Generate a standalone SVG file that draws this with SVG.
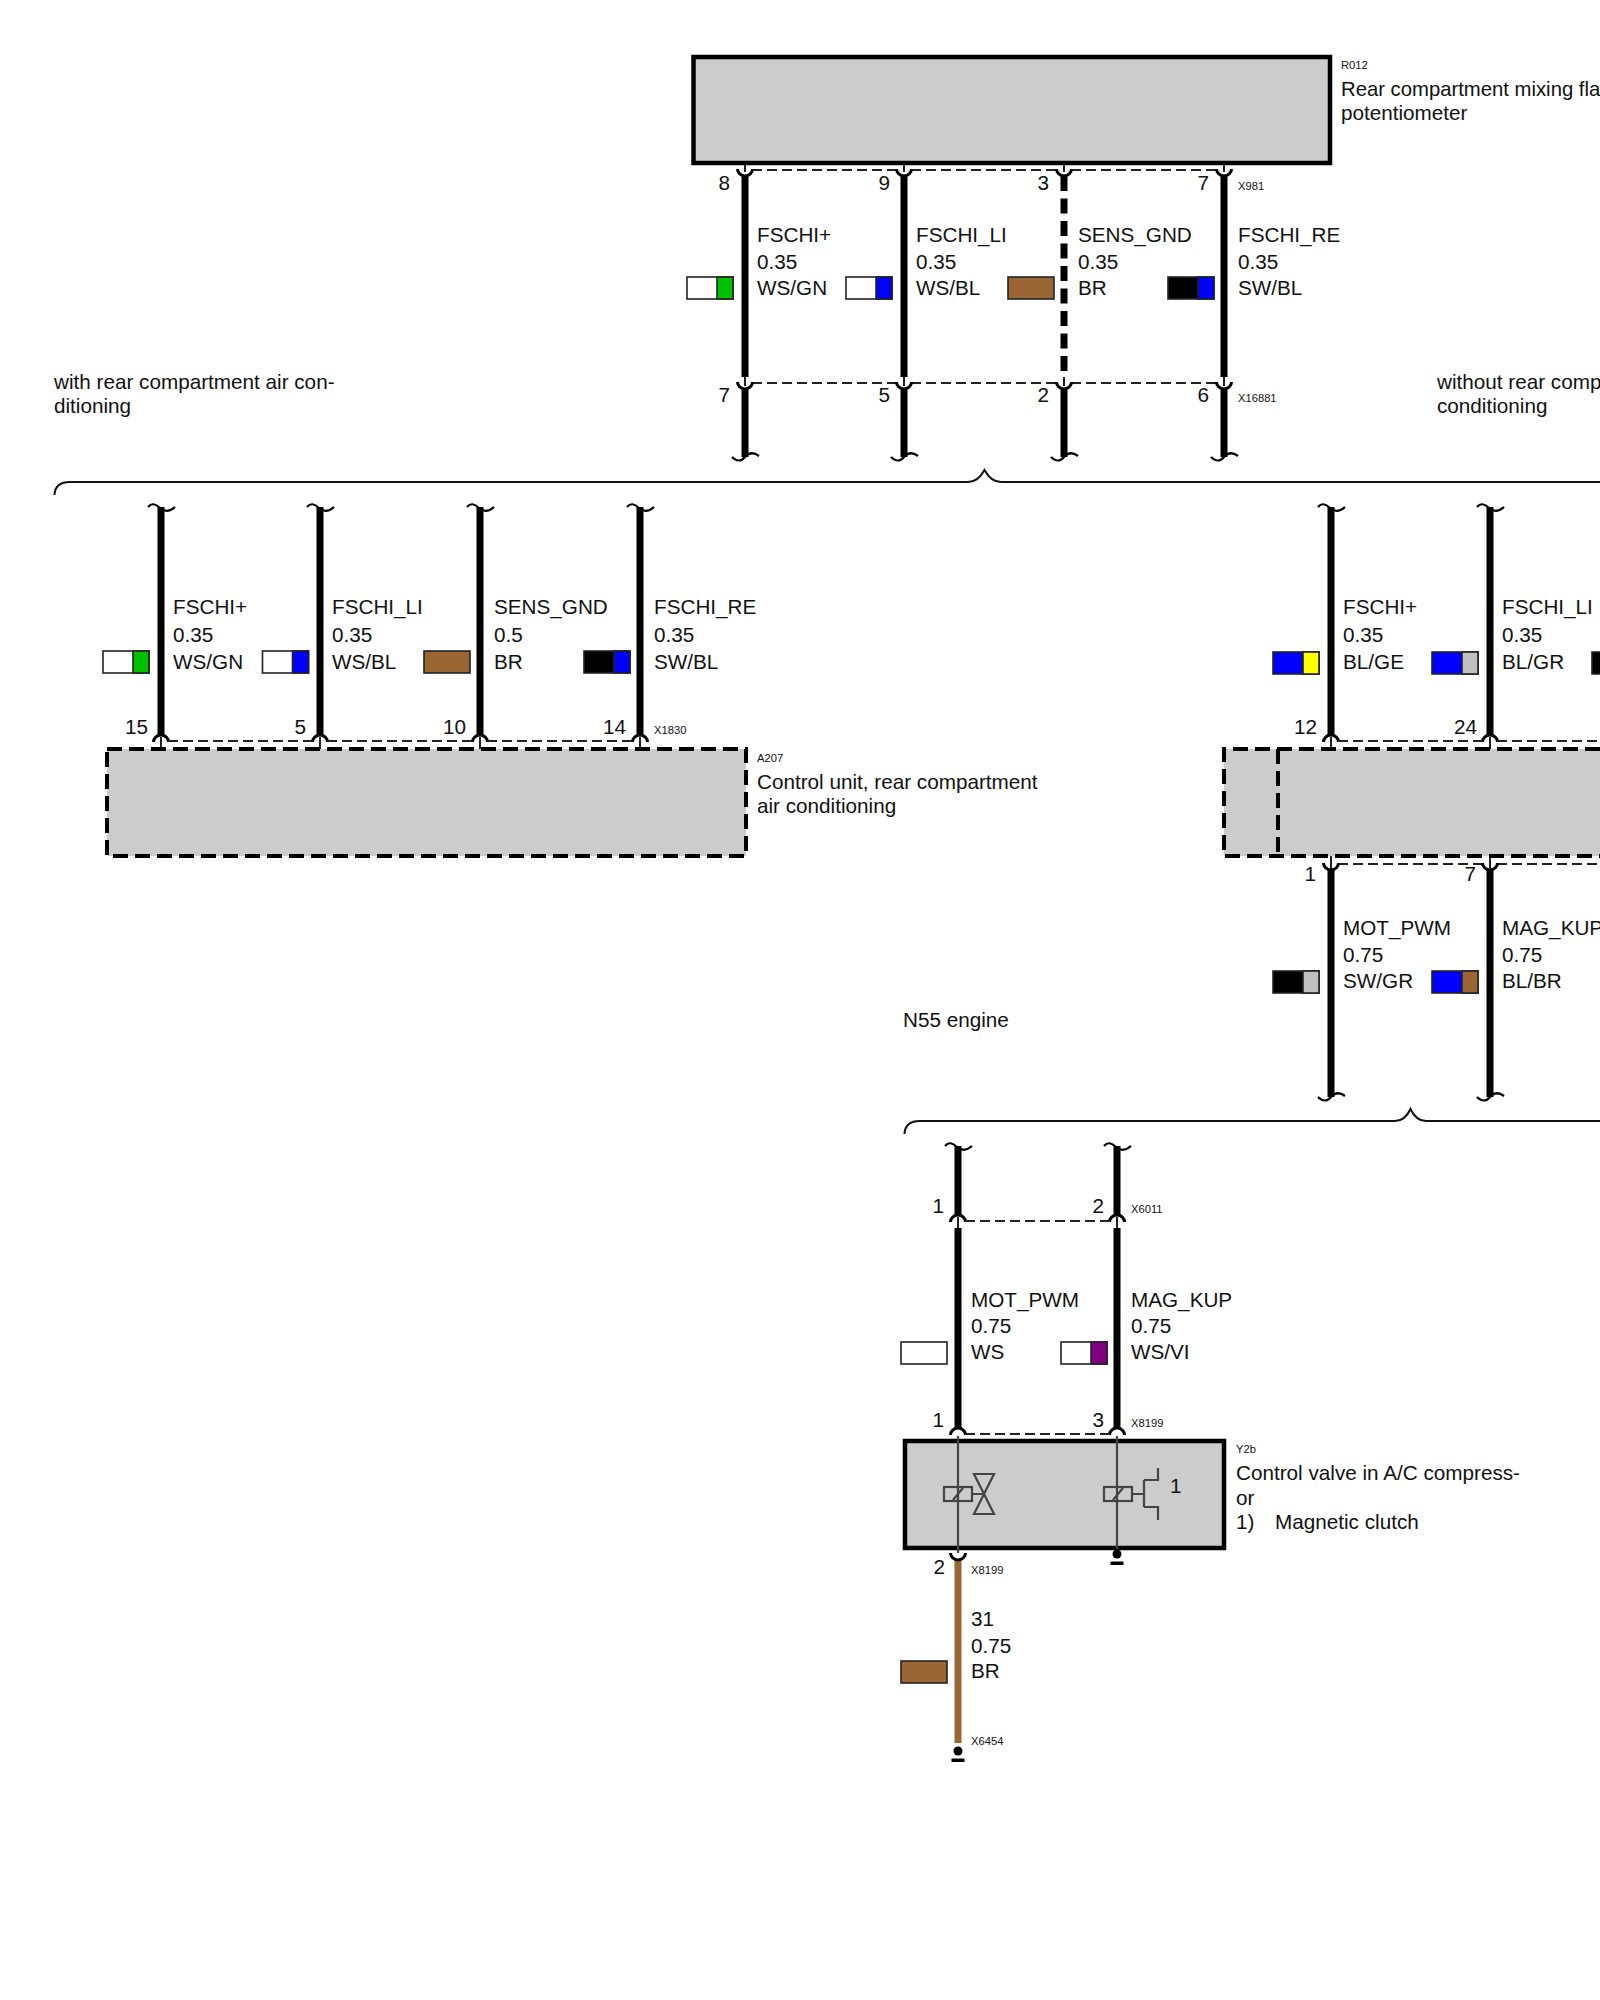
<svg xmlns="http://www.w3.org/2000/svg" xmlns:xlink="http://www.w3.org/1999/xlink" width="1600" height="2000" viewBox="0 0 1600 2000">
<style>
text{font-family:"Liberation Sans",Arial,sans-serif;font-size:20.700px;fill:#111}
.s{font-size:11.200px}
.r{text-anchor:end}
.fit{font-size:20.300px}
.box{fill:#ccc;stroke:#000;stroke-width:4.500}
.dbox{fill:#ccc;stroke:none}
.dedge{fill:none;stroke:#000;stroke-width:4;stroke-dasharray:15 7}
.wire{stroke:#000;stroke-width:7;fill:none}
.wdash{stroke:#000;stroke-width:7;fill:none;stroke-dasharray:15 7.5}
.wbr{stroke:#996633;stroke-width:7;fill:none}
.thin{stroke:#222;stroke-width:2;fill:none}
.dsh{stroke:#222;stroke-width:2;stroke-dasharray:10 5;fill:none}
.sw{stroke:#222;stroke-width:1.600}
.cp{stroke:#000;stroke-width:3;fill:none}
.til{stroke:#000;stroke-width:2.200;fill:none}
.sym{stroke:#444;stroke-width:2.200;fill:none}
.brace{stroke:#111;stroke-width:2;fill:none}
.w{fill:#fff}.k{fill:#000}.bl{fill:#0000ff}.gn{fill:#00c000}.br{fill:#996633}.gr{fill:#c0c0c0}.ge{fill:#ffff00}.vi{fill:#800080}
</style>
<defs>
<path id="cup" class="cp" d="M-7.500 -1A7.500 7 0 0 0 7.500 -1"/>
<path id="arch" class="cp" d="M-7.500 1A7.500 7 0 0 1 7.500 1"/>
<path id="ttop" class="til" d="M-13 0Q-8 -6 -1 1Q6 7 14 0"/>
<path id="tbot" class="til" d="M-13 0Q-6 7 0 0Q6 -7 14 -1"/>
<g id="gnd"><circle cx="0" cy="0" r="4.500" fill="#000"/><rect x="-6.500" y="7.500" width="13" height="3.500" fill="#000"/></g>
</defs>

<g id="connectors">
<!-- R012 to X16881 -->
<path class="thin" d="M745 164V172M904 164V172M1064 164V172M1224 164V172"/>
<path class="dsh" d="M752 170H897M911 170H1057M1071 170H1217"/>
<use xlink:href="#cup" href="#cup" x="745" y="170"/><use xlink:href="#cup" href="#cup" x="904" y="170"/><use xlink:href="#cup" href="#cup" x="1064" y="170"/><use xlink:href="#cup" href="#cup" x="1224" y="170"/>
<path class="wire" d="M745 175V377M904 175V377M1224 175V377"/>
<path class="wdash" d="M1064 176V377"/>
<path class="thin" d="M745 377V386M904 377V386M1064 377V386M1224 377V386"/>
<path class="dsh" d="M752 383H897M911 383H1057M1071 383H1217"/>
<use xlink:href="#cup" href="#cup" x="745" y="383"/><use xlink:href="#cup" href="#cup" x="904" y="383"/><use xlink:href="#cup" href="#cup" x="1064" y="383"/><use xlink:href="#cup" href="#cup" x="1224" y="383"/>
<path class="wire" d="M745 388V457M904 388V457M1064 388V457M1224 388V457"/>
<use xlink:href="#tbot" href="#tbot" x="745" y="457"/><use xlink:href="#tbot" href="#tbot" x="904" y="457"/><use xlink:href="#tbot" href="#tbot" x="1064" y="457"/><use xlink:href="#tbot" href="#tbot" x="1224" y="457"/>
<!-- with rear A/C -->
<use xlink:href="#ttop" href="#ttop" x="161" y="507"/><use xlink:href="#ttop" href="#ttop" x="320" y="507"/><use xlink:href="#ttop" href="#ttop" x="480" y="507"/><use xlink:href="#ttop" href="#ttop" x="640" y="507"/>
<path class="wire" d="M161 507V736M320 507V736M480 507V736M640 507V736"/>
<use xlink:href="#arch" href="#arch" x="161" y="741"/><use xlink:href="#arch" href="#arch" x="320" y="741"/><use xlink:href="#arch" href="#arch" x="480" y="741"/><use xlink:href="#arch" href="#arch" x="640" y="741"/>
<path class="dsh" d="M168 741H313M327 741H473M487 741H633"/>
<path class="thin" d="M161 737V749M320 737V749M480 737V749M640 737V749"/>
<!-- without rear A/C -->
<use xlink:href="#ttop" href="#ttop" x="1331" y="507"/><use xlink:href="#ttop" href="#ttop" x="1490" y="507"/>
<path class="wire" d="M1331 507V736M1490 507V736"/>
<use xlink:href="#arch" href="#arch" x="1331" y="741"/><use xlink:href="#arch" href="#arch" x="1490" y="741"/>
<path class="dsh" d="M1338 741H1483M1497 741H1600"/>
<path class="thin" d="M1331 737V749M1490 737V749"/>
<path class="thin" d="M1331 856V869M1490 856V869"/>
<path class="dsh" d="M1338 864H1483M1497 864H1600"/>
<use xlink:href="#cup" href="#cup" x="1331" y="864"/><use xlink:href="#cup" href="#cup" x="1490" y="864"/>
<path class="wire" d="M1331 869V1097M1490 869V1097"/>
<use xlink:href="#tbot" href="#tbot" x="1331" y="1097"/><use xlink:href="#tbot" href="#tbot" x="1490" y="1097"/>
<!-- N55 engine -->
<use xlink:href="#ttop" href="#ttop" x="958" y="1146"/><use xlink:href="#ttop" href="#ttop" x="1117" y="1146"/>
<path class="wire" d="M958 1146V1216M1117 1146V1216"/>
<use xlink:href="#arch" href="#arch" x="958" y="1221"/><use xlink:href="#arch" href="#arch" x="1117" y="1221"/>
<path class="dsh" d="M965 1221H1110"/>
<path class="thin" d="M958 1217V1228M1117 1217V1228"/>
<path class="wire" d="M958 1228V1429M1117 1228V1429"/>
<use xlink:href="#arch" href="#arch" x="958" y="1434"/><use xlink:href="#arch" href="#arch" x="1117" y="1434"/>
<path class="dsh" d="M965 1434H1110"/>
<path class="wbr" d="M958 1560V1743"/>
<use xlink:href="#cup" href="#cup" x="958" y="1554"/>
</g>

<g id="braces">
<path class="brace" d="M54.500 495Q55 482 70 482H968Q978 482 984.500 470Q991 482 1001 482H1600"/>
<path class="brace" d="M904.500 1134Q905 1121 920 1121H1395Q1405 1121 1410.500 1109Q1416 1121 1426 1121H1600"/>
</g>

<g id="R012">
<rect class="box" x="693.500" y="57" width="636.500" height="106"/>
<text class="s" x="1341" y="69">R012</text>
<text class="fit" x="1341" y="96">Rear compartment mixing fla</text>
<text x="1341" y="120">potentiometer</text>
</g>

<g id="upper-labels">
<text class="r" x="730" y="190">8</text><text class="r" x="890" y="190">9</text><text class="r" x="1049" y="190">3</text><text class="r" x="1209" y="190">7</text>
<text class="s" x="1238" y="190">X981</text>
<text x="757" y="242">FSCHI+</text><text x="757" y="269">0.35</text><text x="757" y="295">WS/GN</text>
<text x="916" y="242">FSCHI_LI</text><text x="916" y="269">0.35</text><text x="916" y="295">WS/BL</text>
<text x="1078" y="242">SENS_GND</text><text x="1078" y="269">0.35</text><text x="1078" y="295">BR</text>
<text x="1238" y="242">FSCHI_RE</text><text x="1238" y="269">0.35</text><text x="1238" y="295">SW/BL</text>
<rect class="sw w" x="687" y="277" width="46" height="22"/><rect class="sw gn" x="717" y="277" width="16" height="22"/>
<rect class="sw w" x="846" y="277" width="46" height="22"/><rect class="sw bl" x="876" y="277" width="16" height="22"/>
<rect class="sw br" x="1008" y="277" width="46" height="22"/>
<rect class="sw k" x="1168" y="277" width="46" height="22"/><rect class="sw bl" x="1198" y="277" width="16" height="22"/>
<text class="r" x="730" y="402">7</text><text class="r" x="890" y="402">5</text><text class="r" x="1049" y="402">2</text><text class="r" x="1209" y="402">6</text>
<text class="s" x="1238" y="402">X16881</text>
<text x="54" y="389">with rear compartment air con-</text><text x="54" y="413">ditioning</text>
<text x="1437" y="389">without rear comp</text><text x="1437" y="413">conditioning</text>
</g>

<g id="A207">
<rect class="dbox" x="107" y="749" width="639" height="107"/>
<rect class="dedge" x="107" y="749" width="639" height="107"/>
<text class="s" x="757" y="762">A207</text>
<text x="757" y="789">Control unit, rear compartment</text>
<text x="757" y="813">air conditioning</text>
</g>

<g id="with-labels">
<text x="173" y="614">FSCHI+</text><text x="173" y="642">0.35</text><text x="173" y="669">WS/GN</text>
<text x="332" y="614">FSCHI_LI</text><text x="332" y="642">0.35</text><text x="332" y="669">WS/BL</text>
<text x="494" y="614">SENS_GND</text><text x="494" y="642">0.5</text><text x="494" y="669">BR</text>
<text x="654" y="614">FSCHI_RE</text><text x="654" y="642">0.35</text><text x="654" y="669">SW/BL</text>
<rect class="sw w" x="103" y="651" width="46" height="22"/><rect class="sw gn" x="133" y="651" width="16" height="22"/>
<rect class="sw w" x="262.500" y="651" width="46" height="22"/><rect class="sw bl" x="292.500" y="651" width="16" height="22"/>
<rect class="sw br" x="424" y="651" width="46" height="22"/>
<rect class="sw k" x="584" y="651" width="46" height="22"/><rect class="sw bl" x="614" y="651" width="16" height="22"/>
<text class="r" x="148" y="734">15</text><text class="r" x="306" y="734">5</text><text class="r" x="466" y="734">10</text><text class="r" x="626" y="734">14</text>
<text class="s" x="654" y="734">X1830</text>
</g>

<g id="unit-without">
<rect class="dbox" x="1224" y="749" width="376" height="107"/>
<path class="dedge" d="M1600 749H1224V856H1600M1278 749V856"/>
</g>

<g id="without-labels">
<text x="1343" y="614">FSCHI+</text><text x="1343" y="642">0.35</text><text x="1343" y="669">BL/GE</text>
<text x="1502" y="614">FSCHI_LI</text><text x="1502" y="642">0.35</text><text x="1502" y="669">BL/GR</text>
<rect class="sw bl" x="1273" y="652" width="46" height="22"/><rect class="sw ge" x="1303" y="652" width="16" height="22"/>
<rect class="sw bl" x="1432" y="652" width="46" height="22"/><rect class="sw gr" x="1462" y="652" width="16" height="22"/>
<rect class="sw k" x="1592" y="652" width="10" height="22"/>
<text class="r" x="1317" y="734">12</text><text class="r" x="1477" y="734">24</text>
<text class="r" x="1316" y="881">1</text><text class="r" x="1476" y="881">7</text>
<text x="1343" y="935">MOT_PWM</text><text x="1343" y="962">0.75</text><text x="1343" y="988">SW/GR</text>
<text x="1502" y="935">MAG_KUP</text><text x="1502" y="962">0.75</text><text x="1502" y="988">BL/BR</text>
<rect class="sw k" x="1273" y="971" width="46" height="22"/><rect class="sw gr" x="1303" y="971" width="16" height="22"/>
<rect class="sw bl" x="1432" y="971" width="46" height="22"/><rect class="sw br" x="1462" y="971" width="16" height="22"/>
<text x="903" y="1027">N55 engine</text>
</g>

<g id="n55-labels">
<text class="r" x="944" y="1213">1</text><text class="r" x="1104" y="1213">2</text>
<text class="s" x="1131" y="1213">X6011</text>
<text x="971" y="1307">MOT_PWM</text><text x="971" y="1333">0.75</text><text x="971" y="1359">WS</text>
<text x="1131" y="1307">MAG_KUP</text><text x="1131" y="1333">0.75</text><text x="1131" y="1359">WS/VI</text>
<rect class="sw w" x="901" y="1342" width="46" height="22"/>
<rect class="sw w" x="1061" y="1342" width="46" height="22"/><rect class="sw vi" x="1091" y="1342" width="16" height="22"/>
<text class="r" x="944" y="1427">1</text><text class="r" x="1104" y="1427">3</text>
<text class="s" x="1131" y="1427">X8199</text>
</g>

<g id="Y2b">
<rect class="box" x="905" y="1441" width="319" height="107"/>
<path class="sym" d="M958 1436V1553M1117 1436V1549"/>
<rect class="sym" x="944" y="1487" width="28" height="14" fill="#ccc"/>
<path class="sym" d="M953 1500L963 1488M972 1494H984M974 1474H994L974 1514H994Z"/>
<rect class="sym" x="1104" y="1487" width="28" height="14"/>
<path class="sym" d="M1113 1500L1123 1488M1132 1494H1144M1144 1480V1507M1144 1480H1158V1468M1144 1507H1158V1520"/>
<text x="1170" y="1493">1</text>
<text class="s" x="1236" y="1453">Y2b</text>
<text x="1236" y="1480">Control valve in A/C compress-</text>
<text x="1236" y="1505">or</text>
<text x="1236" y="1529">1)</text><text x="1275" y="1529">Magnetic clutch</text>
<use xlink:href="#gnd" href="#gnd" x="1117" y="1554"/>
</g>

<g id="ground-wire-labels">
<text class="r" x="945" y="1574">2</text>
<text class="s" x="971" y="1574">X8199</text>
<text x="971" y="1626">31</text><text x="971" y="1653">0.75</text><text x="971" y="1678">BR</text>
<rect class="sw br" x="901" y="1661" width="46" height="22"/>
<text class="s" x="971" y="1745">X6454</text>
<use xlink:href="#gnd" href="#gnd" x="958" y="1751"/>
</g>
</svg>
